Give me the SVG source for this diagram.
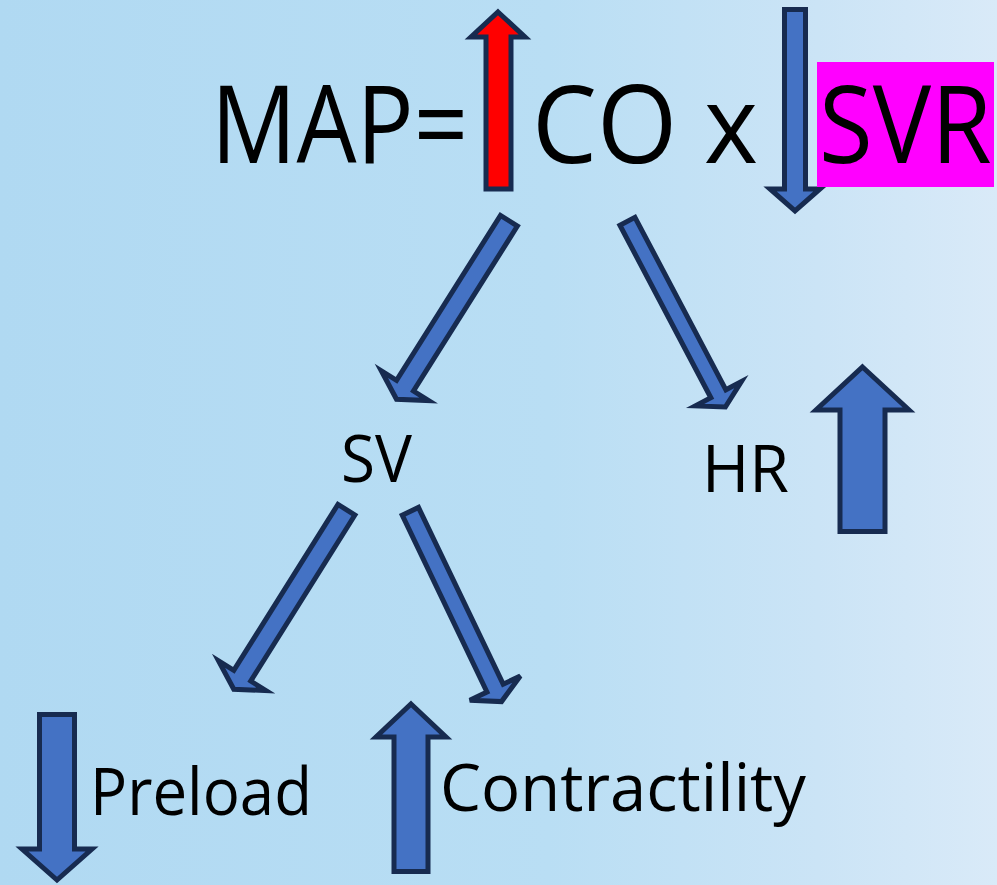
<svg xmlns="http://www.w3.org/2000/svg" width="997" height="885" viewBox="0 0 997 885">
<defs>
<linearGradient id="bg" x1="0" y1="0" x2="1" y2="0">
<stop offset="0" stop-color="#b0d9f2"/>
<stop offset="0.55" stop-color="#b9def4"/>
<stop offset="0.82" stop-color="#cbe4f6"/>
<stop offset="1" stop-color="#d9eaf8"/>
</linearGradient>
<style>
.t{font-family:"Open Sans","Noto Sans","Liberation Sans",sans-serif;fill:#000}
.big{font-size:108px}
.sm{font-size:65px}
.ar{fill:#4472c4;stroke:#172b50;stroke-width:5;stroke-linejoin:miter}
.red{fill:#ff0000;stroke:#172b50;stroke-width:5;stroke-linejoin:miter}
</style>
</defs>
<rect width="997" height="885" fill="url(#bg)"/>

<g id="map">
<text class="t big" x="211" y="163" textLength="257" lengthAdjust="spacingAndGlyphs">MAP=</text>
</g>
<g id="co-up-arrow">
<polygon class="red" points="498,12 525,37 511,37 511,189 486,189 486,37 471,37"/>
</g>
<g id="co">
<text class="t big" x="532" y="163" textLength="226" lengthAdjust="spacingAndGlyphs">CO x</text>
</g>
<g id="svr-down-arrow">
<polygon class="ar" points="784.5,9.5 805.5,9.5 805.5,189 820,189 795,211 770,189 784.5,189"/>
</g>
<g id="svr">
<rect x="817" y="62" width="177" height="125" fill="#ff00ff"/>
<text class="t" font-size="98" transform="translate(819,163) scale(1,1.1)" x="0" y="0">SVR</text>
</g>
<g id="sv">
<text class="t sm" x="341" y="482" textLength="71" lengthAdjust="spacingAndGlyphs">SV</text>
</g>
<g id="hr">
<text class="t sm" x="702" y="492" textLength="87" lengthAdjust="spacingAndGlyphs">HR</text>
</g>
<g id="hr-up-arrow">
<polygon class="ar" points="862.5,367 909,410 885,410 885,531.5 840,531.5 840,410 816,410"/>
</g>
<g id="preload-down-arrow">
<polygon class="ar" points="39.5,714.5 74.5,714.5 74.5,849 92,849 57,880 22,849 39.5,849"/>
</g>
<g id="preload">
<text class="t sm" x="90" y="815" textLength="222" lengthAdjust="spacingAndGlyphs">Preload</text>
</g>
<g id="contractility-up-arrow">
<polygon class="ar" points="411,704 446,737 428,737 428,871.5 394,871.5 394,737 376,737"/>
</g>
<g id="contractility">
<text class="t sm" x="440" y="811" textLength="366" lengthAdjust="spacingAndGlyphs">Contractility</text>
</g>

<g id="connectors">
<polygon class="ar" transform="translate(510,219) rotate(122.2)" points="2,-10 197,-10 197,-28 213,0 197,28 197,10 2,10"/>
<polygon class="ar" transform="translate(626.5,219.5) rotate(62.2)" points="2,-8.5 197,-8.5 197,-26 212,0 197,26 197,8.5 2,8.5"/>
<polygon class="ar" transform="translate(347.5,508) rotate(122.1)" points="2,-10 198,-10 198,-28 214,0 198,28 198,10 2,10"/>
<polygon class="ar" transform="translate(409.5,509.5) rotate(64.4)" points="2,-9 198,-9 198,-28 213,0 198,28 198,9 2,9"/>
</g>
</svg>
